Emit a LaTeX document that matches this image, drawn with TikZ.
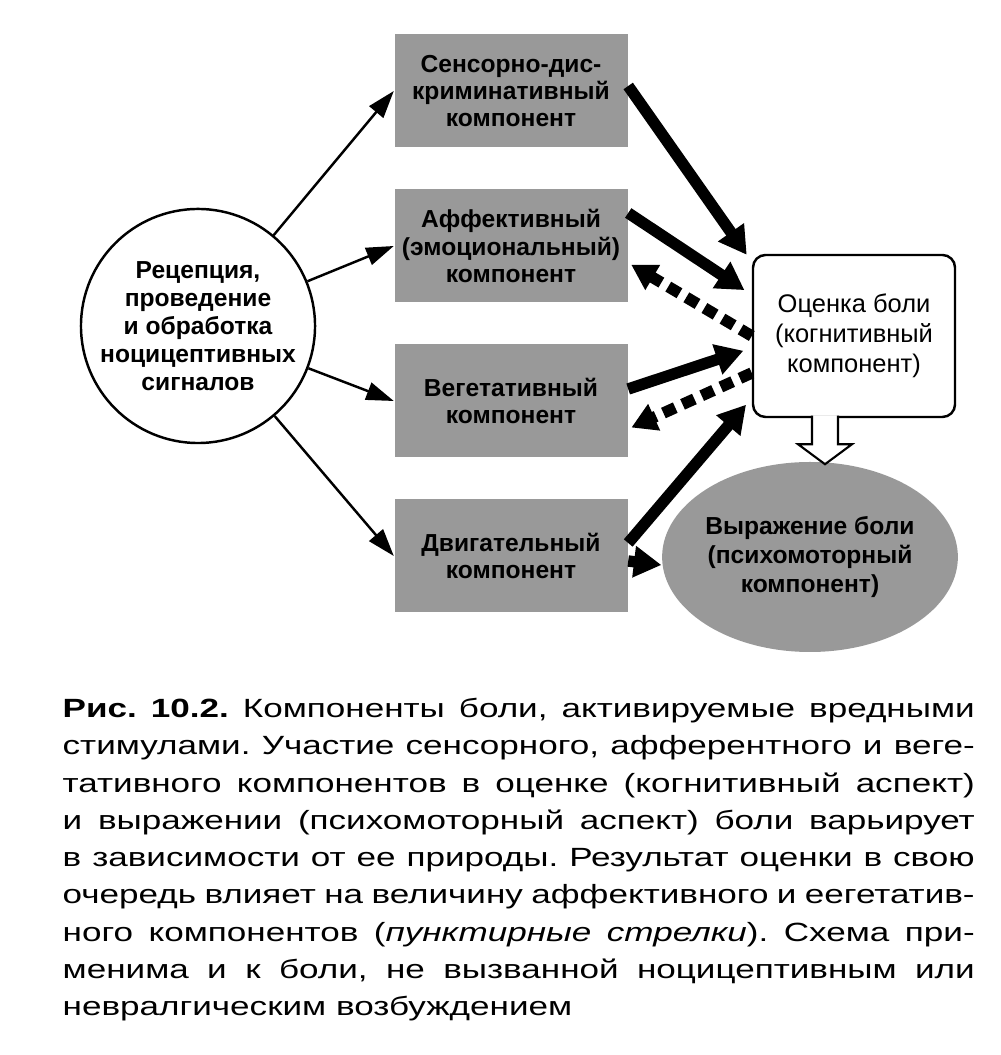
\documentclass[tikz,border=0pt]{standalone}
\usepackage{fontspec}
\setmainfont{Liberation Sans}
\newfontfamily\capfont[FakeStretch=1.33]{Liberation Sans}
\usepackage{tikz}
\usetikzlibrary{shapes.geometric}
\usetikzlibrary{arrows.meta}

\begin{document}
\begin{tikzpicture}
	[node distance={31mm}, thick,
	ring/.style = {draw, circle, line width=1.4pt, minimum size=46mm, inner sep=0pt, align=center, font=\bfseries\fontsize{14}{16}\selectfont},
	comp/.style = {rectangle, fill=black!40, minimum width=46.6mm, minimum height=22.6mm, inner sep=0pt, align=center, font=\bfseries\fontsize{14}{15.5}\selectfont},
	judge/.style = {draw, rectangle, rounded corners=2.5mm, line width=1.4pt, minimum width=40.4mm, minimum height=32.4mm, align=center, font=\fontsize{14.5}{17}\selectfont},
	oval/.style = {ellipse, fill=black!40, minimum width=54mm, minimum height=38mm, inner sep=0pt, align=center, font=\bfseries\fontsize{14}{16.5}\selectfont},
	feed/.style = {line width=1.4pt, -{Triangle[length=5.5mm, width=3.6mm]}},
	fat/.style = {line width=6.5pt, -{Triangle[length=5.5mm, width=6mm]}},
	dashfb/.style = {line width=6.5pt, dash pattern=on 2.6mm off 1.6mm, -{Triangle[length=5mm, width=5.5mm]}}]
	\useasboundingbox (0,0) rectangle (20,21.1);
	\node[ring] (1) at (3.96,14.58) {Рецепция,\\ проведение\\ и обработка\\ ноцицептивных\\ сигналов};
	\node[comp] (2) at (10.22,19.28) {Сенсорно-дис-\\криминативный\\компонент};
	\node[comp] (3) [below of = 2] {Аффективный\\(эмоциональный)\\компонент};
	\node[comp] (4) [below of = 3] {Вегетативный\\компонент};
	\node[comp] (5) [below of = 4] {Двигательный\\компонент};
	\node[judge] (6) at (17.08,14.38) {Оценка боли\\(когнитивный\\компонент)};
	\node[oval] (7) at (16.2,9.96) {Выражение боли\\(психомоторный\\компонент)};
	\draw[feed] (1) -- (2.west);
	\draw[feed] (1) -- (3.west);
	\draw[feed] (1) -- (4.west);
	\draw[feed] (1) -- (5.west);
	\draw[fat, shorten >=5pt] ([yshift=1mm]2.east) -- ([yshift=14.8mm]6.west);
	\draw[fat, shorten >=5pt] ([yshift=6.6mm]3.east) -- ([yshift=8.2mm]6.west);
	\draw[fat, shorten >=5pt] ([yshift=2.4mm]4.east) -- ([yshift=-2.4mm]6.west);
	\draw[fat, shorten >=5pt] ([yshift=2.6mm]5.east) -- ([yshift=-12.4mm]6.west);
	\draw[fat] ([yshift=-1mm]5.east) -- ([yshift=-1.6mm]7.west);
	\draw[dashfb, shorten >=2pt] (6.west) -- ([yshift=-3.4mm]3.east);
	\draw[dashfb, shorten >=2pt] ([yshift=-7.4mm]6.west) -- ([yshift=-5.6mm]4.east);
	% hollow arrow from the judgement to the expression
	\coordinate (h) at ([xshift=-5.8mm]6.south);
	\draw[line width=1.2pt, fill=white] ([shift={(-2.6mm,0.5mm)}]h) -- ++(0,-5.7mm) -- ++(-2.8mm,0)
		-- ++(5.4mm,-4mm) -- ++(5.4mm,4mm) -- ++(-2.8mm,0) -- ++(0,5.7mm);
	\node[anchor=north west, inner sep=0pt, text width=182.4mm, align=justify,
		font=\capfont\fontsize{15}{21.2}\selectfont] (8) at (1.24,7.15)
		{\tolerance=10000\hyphenpenalty=10000\frenchspacing
		\textbf{Рис. 10.2.} Компоненты боли, активируемые вредными\linebreak
		стимулами. Участие сенсорного, афферентного и веге-\linebreak
		тативного компонентов в оценке (когнитивный аспект)\linebreak
		и выражении (психомоторный аспект) боли варьирует\linebreak
		в зависимости от ее природы. Результат оценки в свою\linebreak
		очередь влияет на величину аффективного и еегетатив-\linebreak
		ного компонентов (\textit{пунктирные стрелки}). Схема при-\linebreak
		менима и к боли, не вызванной ноцицептивным или\linebreak
		невралгическим возбуждением};
\end{tikzpicture}
\end{document}
